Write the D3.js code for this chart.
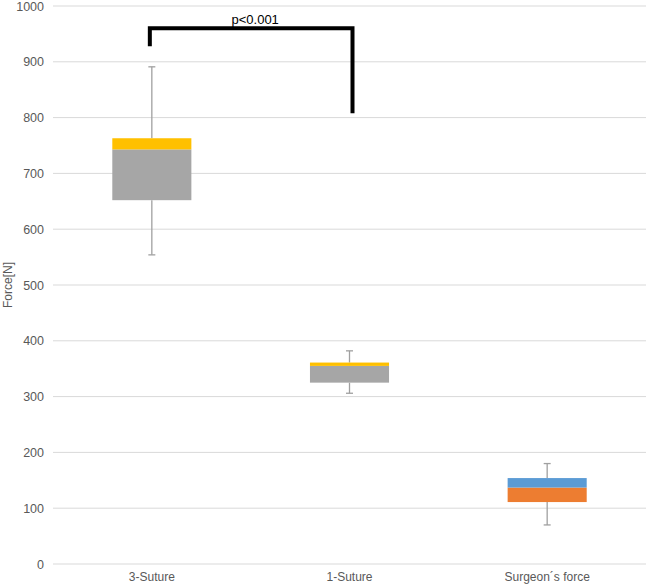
<!DOCTYPE html>
<html><head><meta charset="utf-8">
<script src="https://cdn.jsdelivr.net/npm/d3@7"></script>
<style>body{margin:0;background:#fff;font-family:"Liberation Sans",Arial,sans-serif;}</style>
</head><body>
<svg id="c" width="646" height="587"></svg>
<script>
const categories = ["3-Suture", "1-Suture", "Surgeon\u00b4s force"];
const whiskerMin = [554, 306, 70];
const q1 = [652, 325, 111];
const median = [743, 355, 137];
const q3 = [763, 361, 154];
const whiskerMax = [891, 382, 180];
const lowerColors = ["#a6a6a6", "#a6a6a6", "#ed7d31"];
const upperColors = ["#ffc000", "#ffc000", "#5b9bd5"];
const yTicks = [0,100,200,300,400,500,600,700,800,900,1000];
const sig = {from: 0, to: 1, leftY: 928, topY: 960, rightY: 808, label: "p<0.001"};

const svg = d3.select("#c");
const pLeft = 53, pRight = 646, pTop = 6, pBottom = 564;
const x = d3.scaleBand().domain(categories).range([pLeft, pRight]).paddingInner(0.6).paddingOuter(0.3);
const y = d3.scaleLinear().domain([0, 1000]).range([pBottom, pTop]);

// grid
svg.append("g").selectAll("line").data(yTicks).join("line")
  .attr("x1", pLeft).attr("x2", pRight)
  .attr("y1", d => y(d)).attr("y2", d => y(d))
  .attr("stroke", "#d9d9d9").attr("stroke-width", 1);

// y axis labels
const ya = svg.append("g").attr("transform", `translate(${pLeft},0)`)
  .call(d3.axisLeft(y).tickValues(yTicks).tickFormat(d3.format("d")).tickSize(0).tickPadding(9));
ya.select(".domain").remove();
ya.selectAll("text").attr("fill", "#595959").style("font-size", "12.5px").style("font-family", "Liberation Sans, Arial, sans-serif");

// x axis labels
const xa = svg.append("g").attr("transform", `translate(0,${pBottom})`)
  .call(d3.axisBottom(x).tickSize(0).tickPadding(8));
xa.select(".domain").remove();
xa.selectAll("text").attr("fill", "#595959").style("font-size", "12px").style("font-family", "Liberation Sans, Arial, sans-serif");

// y title
svg.append("text").attr("transform", `translate(12,${(pTop+pBottom)/2}) rotate(-90)`)
  .attr("text-anchor", "middle").attr("fill", "#595959").style("font-size", "12px").text("Force[N]");

const idx = d3.range(categories.length);
const cx = i => x(categories[i]) + x.bandwidth()/2;

// whiskers
const wg = svg.append("g").attr("stroke", "#a0a0a0").attr("stroke-width", 1.3);
idx.forEach(i => {
  wg.append("line").attr("x1", cx(i)).attr("x2", cx(i)).attr("y1", y(whiskerMax[i])).attr("y2", y(q3[i]));
  wg.append("line").attr("x1", cx(i)).attr("x2", cx(i)).attr("y1", y(q1[i])).attr("y2", y(whiskerMin[i]));
  wg.append("line").attr("x1", cx(i)-3.5).attr("x2", cx(i)+3.5).attr("y1", y(whiskerMax[i])).attr("y2", y(whiskerMax[i]));
  wg.append("line").attr("x1", cx(i)-3.5).attr("x2", cx(i)+3.5).attr("y1", y(whiskerMin[i])).attr("y2", y(whiskerMin[i]));
});

// boxes
svg.append("g").selectAll("rect").data(idx).join("rect")
  .attr("x", i => x(categories[i])).attr("width", x.bandwidth())
  .attr("y", i => y(median[i])).attr("height", i => y(q1[i]) - y(median[i]))
  .attr("fill", i => lowerColors[i]);
svg.append("g").selectAll("rect").data(idx).join("rect")
  .attr("x", i => x(categories[i])).attr("width", x.bandwidth())
  .attr("y", i => y(q3[i])).attr("height", i => y(median[i]) - y(q3[i]))
  .attr("fill", i => upperColors[i]);

// significance bracket
const bx1 = cx(sig.from) - 2, bx2 = cx(sig.to) + 3;
svg.append("path")
  .attr("d", `M${bx1},${y(sig.leftY)} V${y(sig.topY)} H${bx2} V${y(sig.rightY)}`)
  .attr("fill", "none").attr("stroke", "#000").attr("stroke-width", 4);
svg.append("text").attr("x", (bx1+bx2)/2 + 4).attr("y", y(sig.topY) - 4)
  .attr("text-anchor", "middle").attr("fill", "#000").style("font-size", "13px").text(sig.label);
</script>
</body></html>
